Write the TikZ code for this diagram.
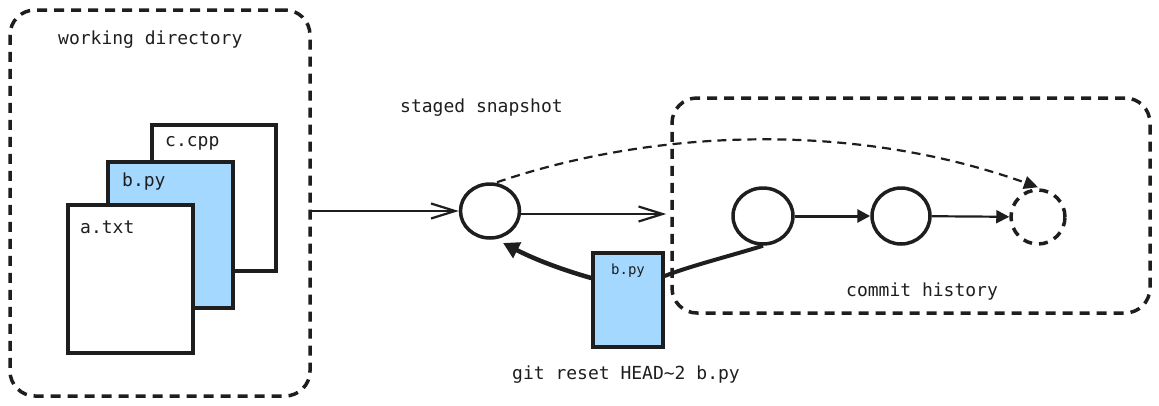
\documentclass[tikz,border=0pt]{standalone}
\usepackage{fontspec}
\setmonofont{DejaVu Sans Mono}
\usetikzlibrary{arrows.meta,shapes.geometric}
\definecolor{ink}{HTML}{1E1E1E}
\definecolor{lightblue}{HTML}{A5D8FF}
\tikzset{
  txt/.style={font=\ttfamily\fontsize{18}{20}\selectfont, text=ink, inner sep=0pt},
  smalltxt/.style={font=\ttfamily\fontsize{14}{16}\selectfont, text=ink, inner sep=0pt},
  dashbox/.style={draw=ink, line width=3.5pt, dash pattern=on 10pt off 7pt, rounded corners=25pt, rectangle, inner sep=0pt},
  filebox/.style={draw=ink, line width=3.5pt, fill=white, rectangle, inner sep=0pt},
  circ/.style={draw=ink, line width=3.5pt, ellipse, inner sep=0pt, fill=white},
  openarrow/.style={draw=ink, line width=2.2pt, -{Straight Barb[length=24pt,width=15pt,line width=2.2pt]}},
  fillarrow/.style={draw=ink, line width=3pt, -{Triangle[length=13pt,width=13pt]}},
}
\begin{document}
\begin{tikzpicture}[x=1pt,y=-1pt]
\useasboundingbox (0,0) rectangle (1159,405);
% working directory
\node[dashbox, minimum width=300, minimum height=386] (wd) at (160,203) {};
\node[txt, anchor=west] (wdl) at (58,40) {working directory};
% files
\node[filebox, minimum width=124, minimum height=146] (fc) at (214,198) {};
\node[txt, anchor=west] (fcl) at (165,143) {c.cpp};
\node[filebox, fill=lightblue, minimum width=125, minimum height=146] (fb) at (170.5,235) {};
\node[txt, anchor=west] (fbl) at (122,182) {b.py};
\node[filebox, minimum width=125, minimum height=148] (fa) at (130.5,279) {};
\node[txt, anchor=west] (fal) at (80,227) {a.txt};
% staged snapshot
\node[circ, minimum width=59, minimum height=54] (st) at (490,211) {};
\node[txt, anchor=west] (stl) at (400,108) {staged snapshot};
% commit history
\node[dashbox, minimum width=478, minimum height=215] (ch) at (911,205.5) {};
\node[txt, anchor=west] (chl) at (846,292) {commit history};
\node[circ, minimum width=60, minimum height=56] (c1) at (763,216) {};
\node[circ, minimum width=58, minimum height=56] (c2) at (901,216) {};
\node[circ, dash pattern=on 9pt off 7pt, minimum width=54, minimum height=54] (c3) at (1038,217) {};
% b.py being reset
\node[filebox, fill=lightblue, minimum width=70, minimum height=94] (bp) at (628,300) {};
\node[smalltxt, anchor=north] (bpl) at ([yshift=-12pt]bp.north) {b.py};
\node[txt, anchor=west] (gr) at (512,375) {git reset HEAD\textasciitilde2 b.py};
% connectors
\draw[openarrow] (wd.east |- st.west) -- (st.west);
\draw[openarrow] ([yshift=-3pt]st.east) -- ([yshift=-3pt,xshift=-4pt]st.east -| ch.west);
\draw[fillarrow] (c1) -- (c2);
\draw[fillarrow, line width=2.2pt] (c2) -- (c3);
\draw[draw=ink, line width=2.2pt, dash pattern=on 9pt off 6pt, -{Triangle[length=14pt,width=13pt]}]
  ([xshift=7pt]st.north) .. controls (650,130) and (850,120) .. ([yshift=1pt]c3.north);
\draw[draw=ink, line width=4pt] (c1.south) .. controls (730,256) and (690,266) .. ([yshift=24pt]bp.east);
\draw[draw=ink, line width=4.5pt, -{Triangle[length=16pt,width=17pt]}]
  ([yshift=22pt]bp.west) .. controls (570,272) and (540,262) .. (503,243);
\end{tikzpicture}
\end{document}
